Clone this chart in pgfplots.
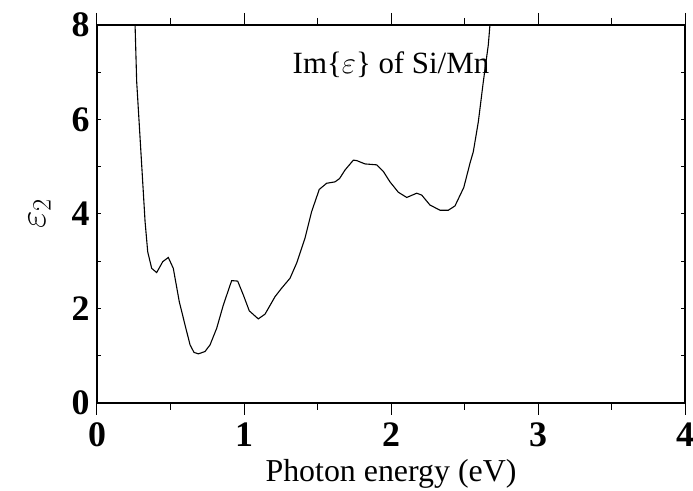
\documentclass[border=0pt]{standalone}
\usepackage{fix-cm}
\usepackage{pgfplots}
\pgfplotsset{compat=1.18}
\usepackage{fontspec}
\setmainfont{Liberation Serif}
\usetikzlibrary{calc}
\begin{document}
\begin{tikzpicture}
\begin{axis}[
  name=ax,
  scale only axis,
  width=588bp, height=378bp,
  xmin=0, xmax=4, ymin=0, ymax=8,
  xtick={0,1,2,3,4}, ytick={0,2,4,6,8},
  minor xtick={0.5,1.5,2.5,3.5},
  minor ytick={1,3,5,7},
  xtick align=outside, ytick align=inside,
  major tick length=12bp, minor tick length=7bp,
  ytick style={/pgfplots/major tick length=4bp,/pgfplots/minor tick length=4bp},
  axis line style={line width=1.1bp},
  every tick/.style={black, line width=1bp},
  /pgf/number format/assume math mode=true,
  ticklabel style={font=\fontsize{36}{38}\selectfont\bfseries},
  xticklabel style={yshift=-4bp},
  yticklabel style={xshift=-4bp},
  xlabel={Photon energy (eV)},
  ylabel={$\varepsilon_2$},
  label style={font=\fontsize{32}{34}\selectfont},
  xlabel style={yshift=-6bp},
  ylabel style={font=\fontsize{38}{40}\selectfont, yshift=14bp},
  clip=true,
]
\addplot[black, line width=1.1bp] coordinates {
(0.252,8.5) (0.259,8.0) (0.270,6.8) (0.304,5.04) (0.327,3.84) (0.345,3.2)
(0.372,2.85) (0.406,2.76) (0.447,2.99) (0.485,3.08) (0.519,2.85) (0.560,2.14)
(0.599,1.65) (0.633,1.23) (0.660,1.07) (0.690,1.04) (0.735,1.09) (0.769,1.23)
(0.814,1.58) (0.859,2.07) (0.916,2.59) (0.957,2.58) (0.995,2.29) (1.036,1.95)
(1.097,1.78) (1.143,1.88) (1.211,2.25) (1.256,2.43) (1.313,2.64) (1.358,2.96)
(1.415,3.49) (1.460,4.05) (1.512,4.52) (1.562,4.65) (1.619,4.68) (1.650,4.75)
(1.687,4.93) (1.744,5.14) (1.767,5.13) (1.823,5.06) (1.903,5.04) (1.948,4.90)
(1.993,4.68) (2.050,4.46) (2.107,4.35) (2.175,4.44) (2.209,4.40) (2.265,4.19)
(2.333,4.08) (2.390,4.08) (2.435,4.17) (2.495,4.56) (2.537,5.07) (2.560,5.32)
(2.594,5.95) (2.628,6.80) (2.662,7.58) (2.673,8.0) (2.68,8.4)
};
\node[font=\fontsize{31}{32}\selectfont] at (axis cs:2.0,7.15) {Im\{$\varepsilon$\} of Si/Mn};
\end{axis}
\pgfresetboundingbox
\path[use as bounding box] ($(ax.south west)+(-97bp,-88bp)$) rectangle ($(ax.north east)+(8bp,25bp)$);
\end{tikzpicture}
\end{document}
